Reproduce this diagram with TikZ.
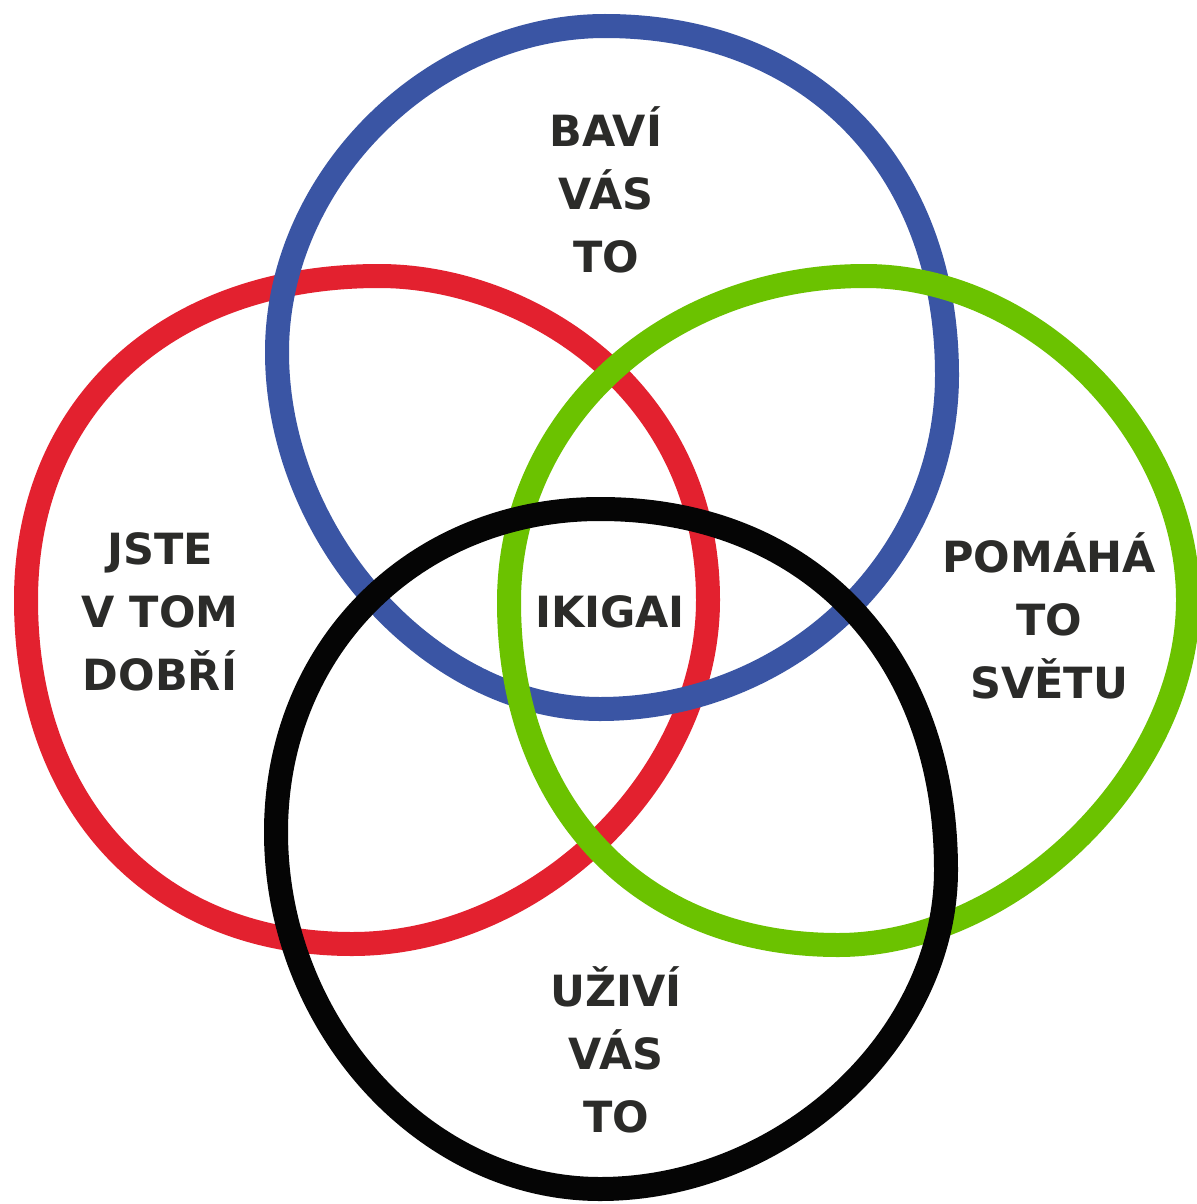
\documentclass[tikz,border=0pt]{standalone}
\usepackage{fontspec}
\newfontfamily\hand{DejaVu Sans}
\definecolor{cblue}{HTML}{3A55A4}
\definecolor{cred}{HTML}{E3212F}
\definecolor{cgreen}{HTML}{6BC200}
\definecolor{cblack}{HTML}{050505}
\definecolor{ctext}{HTML}{2B2B29}
\begin{document}
\begin{tikzpicture}[x=0.5pt,y=-0.5pt,
  ring/.style={line width=12pt, line join=round},
  lbl/.style={text=ctext, align=center, inner sep=0pt,
    font=\hand\bfseries\fontsize{21.5}{31.5}\selectfont}]
\useasboundingbox[fill=white] (0,0) rectangle (1197,1204);
% red
\draw[ring, cred] (379,276)
  .. controls (527,276) and (708,389) .. (708,600)
  .. controls (708,779) and (537,944) .. (352,944)
  .. controls (156,944) and (26,806) .. (26,600)
  .. controls (26,406) and (167,276) .. (379,276) -- cycle;
% blue
\draw[ring, cblue] (605,26)
  .. controls (810,26) and (947,166) .. (947,375)
  .. controls (947,559) and (791,709) .. (600,709)
  .. controls (432,709) and (277,538) .. (277,352)
  .. controls (277,179) and (431,26) .. (605,26) -- cycle;
% green
\draw[ring, cgreen] (865,276)
  .. controls (1033,276) and (1188,432) .. (1188,600)
  .. controls (1188,773) and (1013,945) .. (838,945)
  .. controls (641,945) and (509,808) .. (509,602)
  .. controls (509,419) and (666,276) .. (865,276) -- cycle;
% black
\draw[ring, cblack] (600,509)
  .. controls (808,509) and (946,653) .. (946,870)
  .. controls (946,1039) and (783,1189) .. (600,1189)
  .. controls (425,1189) and (276,1025) .. (276,832)
  .. controls (276,648) and (415,509) .. (600,509) -- cycle;
% labels
\node[lbl] (bavi) at (606,190) {BAVÍ\\VÁS\\TO};
\node[lbl] (dobri) at (160,612) {JSTE\\V TOM\\DOBŘÍ};
\node[lbl] (pomaha) at (1049,616) {POMÁHÁ\\TO\\SVĚTU};
\node[lbl] (uzivi) at (616,1050) {UŽIVÍ\\VÁS\\TO};
\node[lbl] (ikigai) at (610,612) {IKIGAI};
\end{tikzpicture}
\end{document}
